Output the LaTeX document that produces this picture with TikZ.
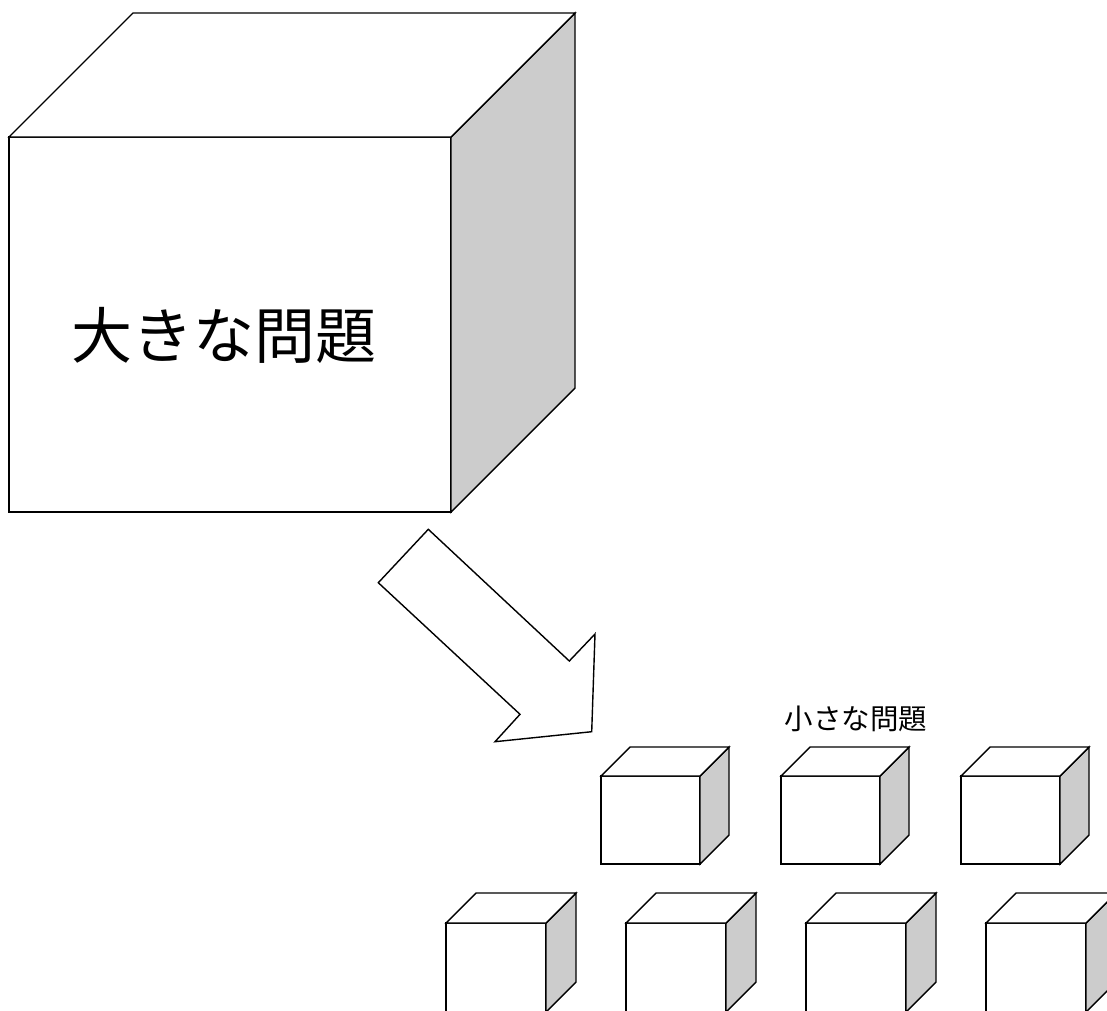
\documentclass[tikz,border=0pt]{standalone}
\usepackage{fontspec}
\newfontfamily\jpfont{Noto Sans CJK JP}
\definecolor{sidegray}{HTML}{CCCCCC}
\tikzset{
  line/.style={draw=black, line width=1.4pt, line join=miter},
  front/.style={line, fill=white, rectangle, inner sep=0pt, outer sep=0pt},
  side/.style={line, fill=sidegray},
  topface/.style={line, fill=white},
  bigtext/.style={font=\jpfont\fontsize{61}{61}\selectfont},
  smalltext/.style={font=\jpfont\fontsize{28.5}{28.5}\selectfont},
}
\newcommand\mycube[6]{% name, left, top, width, height, depth (pixel units, y down)
  \node[front, minimum width=#4pt, minimum height=#5pt, anchor=north west] (#1) at (#2,-#3) {};
  \draw[side] (#1.north east) -- ++(#6,#6) -- ++(0,-#5) -- (#1.south east) -- cycle;
  \draw[topface] (#1.north west) -- ++(#6,#6) -- ++(#4,0) -- (#1.north east) -- cycle;
}
\begin{document}
\begin{tikzpicture}[x=1pt,y=1pt]
  \clip (0,0) rectangle (1107,-1010);
  \fill[white] (0,0) rectangle (1107,-1010);
  % big cube
  \mycube{big}{9}{137}{442}{375}{124}
  \node[bigtext] (bigLabel) at (224,-335) {大きな問題};
  % arrow
  \draw[line, fill=white] (428.3,-529.3) -- (569.3,-661) -- (595,-634) -- (591.7,-731.7)
     -- (495,-741.7) -- (520,-714.3) -- (378.3,-582.7) -- cycle;
  % label
  \node[smalltext] (smallLabel) at (856,-719) {小さな問題};
  % top row small cubes
  \mycube{sa}{601}{776}{99}{88}{29}
  \mycube{sb}{781}{776}{99}{88}{29}
  \mycube{sc}{961}{776}{99}{88}{29}
  % bottom row small cubes
  \mycube{ba}{446}{923}{100}{89}{30}
  \mycube{bb}{626}{923}{100}{89}{30}
  \mycube{bc}{806}{923}{100}{89}{30}
  \mycube{bd}{986}{923}{100}{89}{30}
\end{tikzpicture}
\end{document}
